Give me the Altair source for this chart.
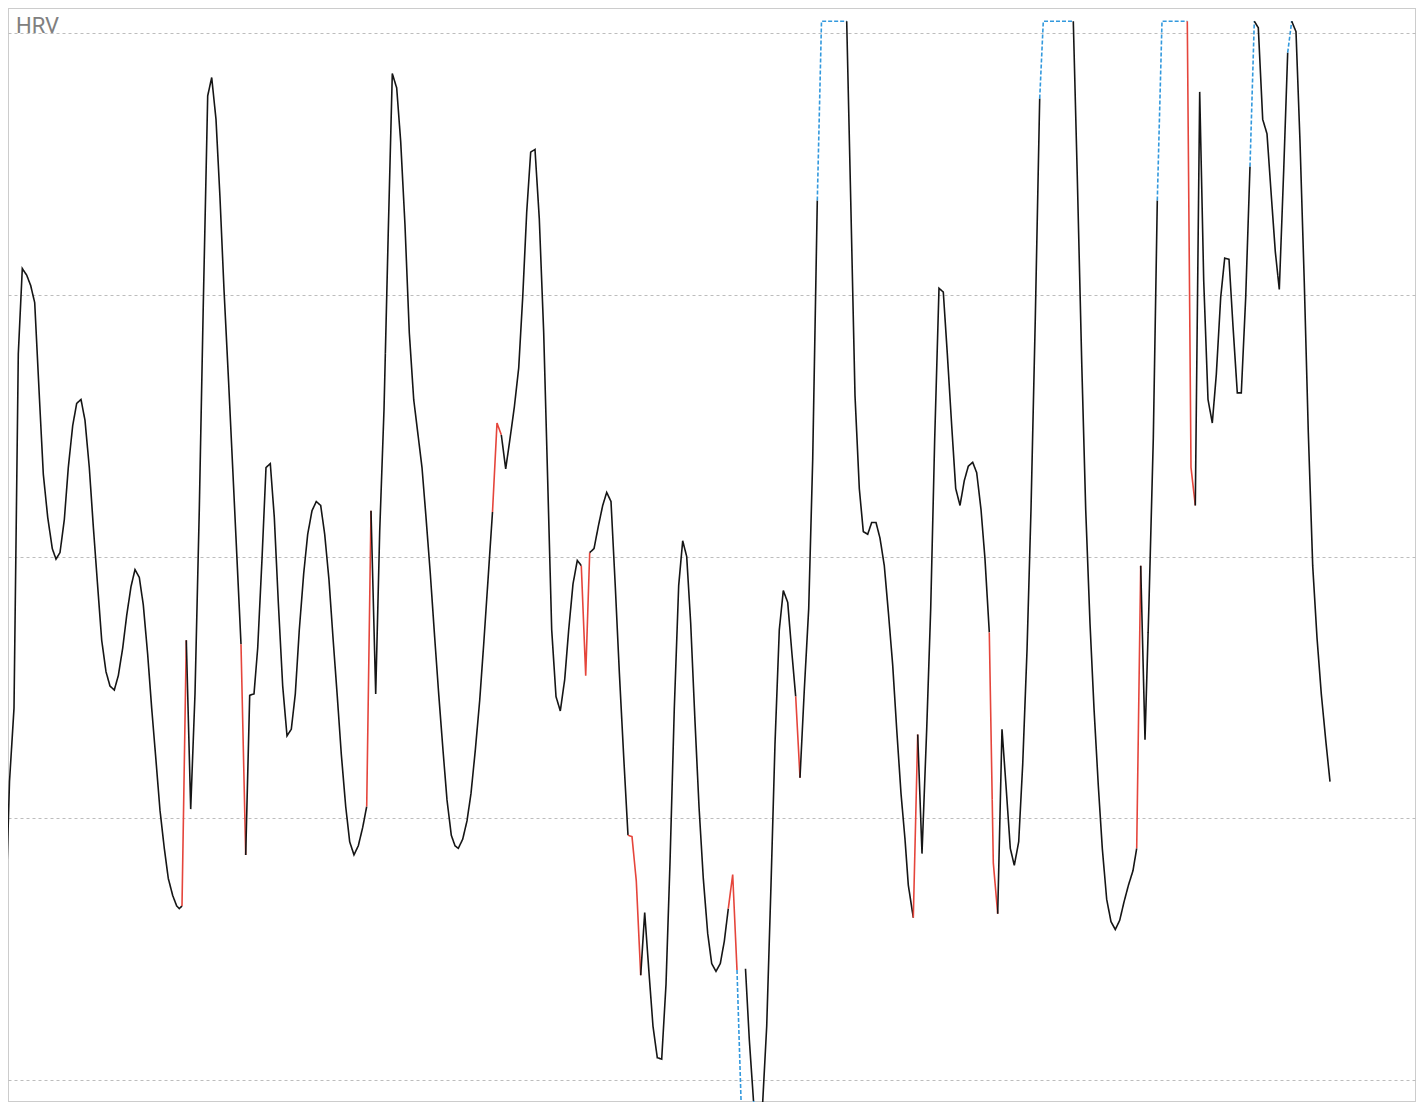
import altair as alt
import pandas as pd

# sample time (arbitrary units) and HRV values
T = [6, 9.5, 14, 18.3, 22.3, 26.7, 30.7, 34.7, 39.3, 43.3,
     47.7, 52.3, 56, 60, 64.3, 68.3, 72.7, 76.7, 81, 85,
     89.3, 93.3, 97.7, 101.7, 106, 110, 114.3, 118.3, 122.7, 126.7,
     131, 135, 139.3, 143.3, 147.7, 151.7, 156, 160, 164.3, 168.3,
     172.7, 176.7, 179.3, 182, 186.3, 190.7, 195, 199.3, 203.3, 207.7,
     211.7, 216, 220, 224, 228.5, 233.3, 237.3, 241, 245.7, 249.7,
     254, 257.7, 262, 266, 270.3, 274.3, 278.3, 282.7, 287, 291.3,
     295.3, 299.3, 303.7, 307.7, 312, 316.3, 320.7, 324.7, 329, 333,
     337.3, 341.3, 345.7, 349.7, 354, 358.3, 362.7, 366.7, 371, 375.7,
     379.7, 384, 388.3, 392.3, 396.7, 400.7, 405, 409.3, 413.7, 417.7,
     422, 426, 430.3, 434.7, 438.7, 443, 447, 451.3, 455, 458.3,
     462.7, 467, 471, 475.3, 479.7, 483.7, 488, 492.5, 497, 501.3,
     505.7, 510, 514.3, 518.7, 522.7, 526.7, 530.7, 535, 539.3, 543.7,
     547.7, 551.7, 556, 560.3, 564.7, 568.7, 573, 577.3, 581.3, 585.7,
     589.7, 594, 598.3, 602.7, 606.7, 611, 615.3, 619.3, 623.7, 628,
     632, 636.3, 640.7, 644.7, 649, 653, 657.3, 661.7, 666, 670,
     674.3, 678.7, 682.7, 686.7, 690.7, 695, 699, 703.3, 707.7, 711.7,
     716, 720.3, 724.3, 728.3, 732.7, 737, 741.5, 745.5, 749.3, 753.5,
     757.5, 762, 766.7, 771, 775, 779.3, 783.3, 787.7, 791.7, 795.7,
     800, 804.3, 808.7, 812.7, 817.3, 821.5, 846.7, 851, 855, 859.3,
     863.3, 867.7, 871.7, 876, 880, 884.3, 888.3, 892.7, 896.7, 901,
     905, 908.3, 913.3, 917.7, 922, 926.7, 930.7, 934.7, 939, 943.3,
     947.3, 951.7, 955.7, 960, 964.3, 968.3, 972.7, 976.7, 981, 985,
     989.3, 993.3, 997.7, 1002, 1006, 1010.3, 1014.3, 1018.7, 1022.7, 1027,
     1031, 1035.3, 1039.7, 1043.3, 1073.3, 1077.3, 1081.7, 1085.7, 1090, 1094,
     1098.3, 1102.3, 1106.7, 1111, 1115.3, 1119.7, 1124, 1128.5, 1133, 1136.7,
     1140.7, 1145, 1149, 1153.3, 1157.3, 1162, 1187.3, 1191, 1195.3, 1199.7,
     1203.7, 1208, 1212.3, 1216.3, 1220.7, 1224.7, 1229, 1233, 1237.3, 1241.3,
     1245.7, 1250, 1254.3, 1258.3, 1262.7, 1267, 1271, 1275.3, 1279.3, 1283.7,
     1287.7, 1291.7, 1296, 1300, 1304.3, 1308.3, 1312.7, 1317, 1321.3, 1325.7, 1330]

HRV = [33.7, 42.8, 48.4, 75.5, 82.0, 81.5, 80.7, 79.4, 72.3, 66.3,
       63.0, 60.6, 59.8, 60.3, 62.8, 66.8, 70.0, 71.7, 72.0, 70.4,
       66.8, 62.3, 57.7, 53.6, 51.2, 50.1, 49.8, 50.9, 53.0, 55.5,
       57.7, 59.0, 58.4, 56.3, 52.5, 48.4, 44.4, 40.6, 37.7, 35.4,
       34.1, 33.3, 33.1, 33.3, 53.6, 40.7, 49.5, 63.6, 79.3, 95.2,
       96.6, 93.4, 87.4, 80.4, 73.5, 65.8, 59.3, 53.3, 37.2, 49.4,
       49.5, 53.0, 59.8, 66.8, 67.1, 63.0, 56.5, 50.1, 46.3, 46.8,
       49.5, 54.4, 58.7, 61.7, 63.5, 64.2, 63.9, 61.7, 58.2, 53.8,
       49.3, 44.9, 40.9, 38.2, 37.2, 37.9, 39.3, 40.9, 63.5, 49.5,
       61.9, 71.2, 84.9, 96.9, 95.8, 91.7, 85.3, 77.1, 72.0, 69.5,
       66.8, 63.0, 58.7, 53.8, 49.5, 45.2, 41.4, 38.7, 37.9, 37.7,
       38.4, 39.8, 41.9, 45.2, 49.0, 53.3, 58.2, 63.4, 70.2, 69.3,
       66.7, 69.0, 71.4, 74.4, 79.8, 86.3, 90.9, 91.1, 85.8, 77.1,
       65.8, 54.4, 49.3, 48.2, 50.6, 54.4, 57.9, 59.7, 59.3, 50.9,
       60.3, 60.6, 62.3, 63.9, 64.9, 64.2, 57.7, 51.2, 44.7, 38.7,
       38.6, 35.2, 28.0, 32.8, 28.2, 24.1, 21.7, 21.6, 27.3, 36.6,
       48.4, 57.8, 61.2, 60.0, 54.9, 47.4, 40.9, 35.4, 31.2, 28.9,
       28.3, 28.9, 30.6, 33.1, 35.7, 28.4, 17.3, 28.5, 23.1, 18.4,
       17.3, 17.3, 24.1, 34.9, 45.7, 54.4, 57.4, 56.5, 52.8, 49.3,
       43.1, 49.8, 56.0, 67.4, 87.2, 100.9, 100.9, 86.3, 72.3, 65.2,
       61.9, 61.7, 62.6, 62.6, 61.4, 59.3, 55.8, 51.7, 46.8, 41.9,
       38.4, 34.9, 32.4, 46.4, 37.3, 46.8, 56.0, 69.0, 80.5, 80.2,
       75.5, 70.0, 65.2, 63.9, 65.8, 66.9, 67.2, 66.4, 63.6, 59.8,
       54.2, 36.6, 32.7, 46.8, 42.5, 37.7, 36.4, 38.2, 44.1, 52.8,
       63.6, 78.2, 95.0, 100.9, 100.9, 89.0, 74.9, 63.6, 54.9, 48.4,
       42.5, 37.7, 33.8, 32.1, 31.5, 32.2, 33.6, 34.9, 36.0, 37.7,
       59.3, 46.0, 56.5, 69.0, 87.2, 100.9, 100.9, 66.8, 63.9, 95.5,
       81.1, 72.0, 70.2, 73.9, 79.8, 82.8, 82.7, 77.6, 72.5, 72.5,
       79.8, 89.8, 100.9, 100.4, 93.4, 92.3, 87.9, 83.3, 80.4, 89.5,
       98.5, 100.9, 100.1, 91.7, 80.9, 69.5, 59.3, 53.8, 49.5, 46.0, 42.8]

# segment start indices (segment i joins sample i and i+1)
FLAGGED = [43, 57, 87, 117, 118, 138, 139, 149, 150, 151, 173, 174,
           189, 212, 230, 231, 259, 266, 267]
OUT_OF_RANGE = [175, 179, 194, 195, 242, 243, 264, 265, 281, 290]
GAPS = [176, 180]

GRID_VALUES = [20, 40, 60, 80, 100]
KINDS = ["normal", "flagged", "out of range"]

kind = []
for i in range(len(T) - 1):
    if i in GAPS:
        kind.append(None)
    elif i in FLAGGED:
        kind.append("flagged")
    elif i in OUT_OF_RANGE:
        kind.append("out of range")
    else:
        kind.append("normal")

rows = []
run = -1
prev = None
for i, k in enumerate(kind):
    if k is None:
        prev = None
        continue
    if k != prev:
        run += 1
        rows.append({"run": run, "kind": k, "t": T[i], "hrv": HRV[i]})
    rows.append({"run": run, "kind": k, "t": T[i + 1], "hrv": HRV[i + 1]})
    prev = k
df = pd.DataFrame(rows)

x = alt.X("t:Q", scale=alt.Scale(domain=[8, 1416], nice=False, zero=False), axis=None)
y = alt.Y(
    "hrv:Q",
    scale=alt.Scale(domain=[18.32, 101.91], nice=False, zero=False),
    axis=alt.Axis(values=GRID_VALUES, labels=False, ticks=False, domain=False,
                  title=None, grid=True, gridDash=[3, 3], gridColor="#bdbdbd",
                  gridWidth=1, minExtent=0, maxExtent=0),
)

line = alt.Chart(df).mark_line(clip=True, strokeWidth=1.6).encode(
    x=x,
    y=y,
    color=alt.Color("kind:N", scale=alt.Scale(domain=KINDS, range=["#151515", "#e5453b", "#3399dd"]), legend=None),
    strokeDash=alt.StrokeDash("kind:N", scale=alt.Scale(domain=KINDS, range=[[1, 0], [1, 0], [4, 2]]), legend=None),
    detail="run:N",
    order="t:Q",
)

label = alt.Chart(pd.DataFrame({"label": ["HRV"]})).mark_text(
    align="left", baseline="alphabetic", fontSize=22, color="#808080", font="Roboto"
).encode(x=alt.value(8), y=alt.value(25), text="label:N")

chart = alt.layer(line, label).properties(
    width=1408, height=1094, padding=0
).configure_view(stroke="#cccccc", strokeWidth=2)

chart.save("out.html", embed_options={"renderer": "svg", "actions": False})
